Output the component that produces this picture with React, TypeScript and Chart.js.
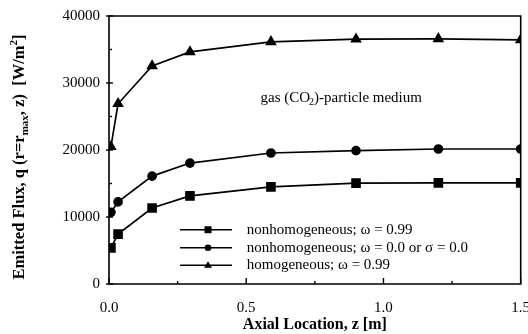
import React, { useEffect, useRef } from "react";
import { Chart, registerables } from "chart.js";

Chart.register(...registerables);

const zPositions = [0.007, 0.033, 0.157, 0.295, 0.59, 0.9, 1.2, 1.5];
const nonhomOmega099 = [5400, 7450, 11350, 13150, 14500, 15050, 15100, 15100];
const nonhomOmega0 = [10700, 12250, 16100, 18050, 19550, 19900, 20150, 20150];
const homOmega099 = [20500, 26900, 32550, 34650, 36150, 36550, 36600, 36450];
const seriesLabels = [
  "nonhomogeneous; \u03c9 = 0.99",
  "nonhomogeneous; \u03c9 = 0.0 or \u03c3 = 0.0",
  "homogeneous; \u03c9 = 0.99",
];
const xTicks = [0, 0.5, 1.0, 1.5];
const yTicks = [0, 10000, 20000, 30000, 40000];

const SERIF = "'Liberation Serif', 'Times New Roman', serif";

const toPoints = (ys: number[]) => ys.map((y, i) => ({ x: zPositions[i], y }));

const decorPlugin = {
  id: "decor",
  afterDraw(chart: any) {
    const { ctx, chartArea: a, scales } = chart;
    const xs = scales.x;
    const ys = scales.y;
    ctx.save();
    ctx.strokeStyle = "#000";
    ctx.lineWidth = 1.6;
    ctx.beginPath();
    ctx.rect(a.left, a.top, a.right - a.left, a.bottom - a.top);
    ctx.stroke();
    // ticks
    ctx.lineWidth = 1.4;
    for (let v = 0; v <= 1.5001; v += 0.25) {
      const px = xs.getPixelForValue(v);
      const major = Math.abs(v * 2 - Math.round(v * 2)) < 1e-6;
      const len = major ? 6 : 3;
      ctx.beginPath();
      ctx.moveTo(px, a.bottom);
      ctx.lineTo(px, a.bottom - len);
      ctx.stroke();
    }
    for (let v = 0; v <= 40000; v += 5000) {
      const py = ys.getPixelForValue(v);
      const major = v % 10000 === 0;
      ctx.beginPath();
      ctx.moveTo(a.left - (major ? 3 : 0), py);
      ctx.lineTo(a.left + (major ? 4 : 3), py);
      ctx.stroke();
    }
    // annotation
    ctx.fillStyle = "#000";
    ctx.textBaseline = "middle";
    ctx.textAlign = "left";
    ctx.font = `15px ${SERIF}`;
    let tx = xs.getPixelForValue(0.552);
    const ty = ys.getPixelForValue(27800);
    const parts1 = ["gas (CO", "2", ")-particle medium"];
    ctx.fillText(parts1[0], tx, ty);
    tx += ctx.measureText(parts1[0]).width - 1;
    ctx.font = `10px ${SERIF}`;
    ctx.fillText(parts1[1], tx, ty + 5);
    tx += ctx.measureText(parts1[1]).width;
    ctx.font = `15px ${SERIF}`;
    ctx.fillText(parts1[2], tx, ty);
    // legend
    const rows = [ys.getPixelForValue(8100), ys.getPixelForValue(5400), ys.getPixelForValue(2800)];
    chart.data.datasets.forEach((ds: any, i: number) => {
      const y = rows[i];
      const x0 = xs.getPixelForValue(0.259);
      const x1 = xs.getPixelForValue(0.448);
      ctx.strokeStyle = "#000";
      ctx.lineWidth = 1.5;
      ctx.beginPath();
      ctx.moveTo(x0, y);
      ctx.lineTo(x1, y);
      ctx.stroke();
      const mx = (x0 + x1) / 2 + 2;
      ctx.fillStyle = "#000";
      const style = ds.pointStyle;
      ctx.beginPath();
      if (style === "rect") {
        ctx.rect(mx - 3.5, y - 3.5, 7, 7);
      } else if (style === "circle") {
        ctx.arc(mx, y, 3.3, 0, Math.PI * 2);
      } else {
        ctx.moveTo(mx, y - 4);
        ctx.lineTo(mx + 4, y + 2.5);
        ctx.lineTo(mx - 4, y + 2.5);
        ctx.closePath();
      }
      ctx.fill();
      ctx.font = `15px ${SERIF}`;
      ctx.textAlign = "left";
      ctx.fillText(ds.label, xs.getPixelForValue(0.502), y);
    });
    // y-axis title (rotated, with sub/superscripts)
    ctx.save();
    const cy = 157;
    ctx.translate(20, cy);
    ctx.rotate(-Math.PI / 2);
    const segs: [string, string][] = [
      ["Emitted Flux, q (r=r", "n"],
      ["max", "sub"],
      [", z)  [W/m", "n"],
      ["2", "sup"],
      ["]", "n"],
    ];
    const fontFor = (k: string) => (k === "n" ? `bold 16.5px ${SERIF}` : `bold 11px ${SERIF}`);
    let total = 0;
    segs.forEach(([t, k]) => {
      ctx.font = fontFor(k);
      total += ctx.measureText(t).width;
    });
    let sx = -total / 2;
    ctx.textAlign = "left";
    ctx.textBaseline = "middle";
    segs.forEach(([t, k]) => {
      ctx.font = fontFor(k);
      const dy = k === "sub" ? 5 : k === "sup" ? -6 : 0;
      ctx.fillText(t, sx, dy);
      sx += ctx.measureText(t).width;
    });
    ctx.restore();
    ctx.restore();
  },
};

export default function App() {
  const ref = useRef<HTMLCanvasElement | null>(null);
  useEffect(() => {
    const canvas = ref.current;
    if (!canvas) return;
    const common = {
      borderColor: "#000",
      backgroundColor: "#000",
      pointBackgroundColor: "#000",
      pointBorderColor: "#000",
      borderWidth: 1.7,
      tension: 0,
      fill: false,
    };
    const chart = new Chart(canvas, {
      type: "line",
      data: {
        datasets: [
          { ...common, label: seriesLabels[0], data: toPoints(nonhomOmega099), pointStyle: "rect", pointRadius: 5.6 },
          { ...common, label: seriesLabels[1], data: toPoints(nonhomOmega0), pointStyle: "circle", pointRadius: 4 },
          { ...common, label: seriesLabels[2], data: toPoints(homOmega099), pointStyle: "triangle", pointRadius: 5 },
        ],
      },
      options: {
        animation: false,
        responsive: false,
        maintainAspectRatio: false,
        layout: { padding: { top: 16, right: 7, left: 0, bottom: 0 } },
        plugins: {
          legend: { display: false },
          tooltip: { enabled: false },
        },
        scales: {
          x: {
            type: "linear",
            min: 0,
            max: 1.5,
            afterBuildTicks: (s: any) => {
              s.ticks = xTicks.map((v) => ({ value: v }));
            },
            afterFit: (s: any) => {
              s.height = 50;
              s.paddingLeft = 0;
              s.paddingRight = 0;
            },
            grid: { display: false, drawTicks: false },
            border: { display: false },
            ticks: {
              padding: 15,
              color: "#000",
              font: { family: SERIF, size: 15 },
              callback: (v: any) => Number(v).toFixed(1),
              maxRotation: 0,
            },
            title: {
              display: true,
              text: "Axial Location, z [m]",
              color: "#000",
              font: { family: SERIF, size: 16, weight: "bold" },
              padding: { top: 0, bottom: 0 },
            },
          },
          y: {
            type: "linear",
            min: 0,
            max: 40000,
            afterBuildTicks: (s: any) => {
              s.ticks = yTicks.map((v) => ({ value: v }));
            },
            afterFit: (s: any) => {
              s.width = 109;
              s.paddingTop = 0;
              s.paddingBottom = 0;
            },
            grid: { display: false, drawTicks: false },
            border: { display: false },
            ticks: {
              padding: 9,
              color: "#000",
              font: { family: SERIF, size: 15 },
              callback: (v: any) => String(v),
            },
          },
        },
      },
      plugins: [decorPlugin],
    } as any);
    return () => chart.destroy();
  }, []);
  return (
    <div style={{ position: "absolute", left: 0, top: 0, width: 528, height: 334, background: "#fff" }}>
      <canvas ref={ref} width={528} height={334} style={{ width: 528, height: 334, display: "block" }} />
    </div>
  );
}
